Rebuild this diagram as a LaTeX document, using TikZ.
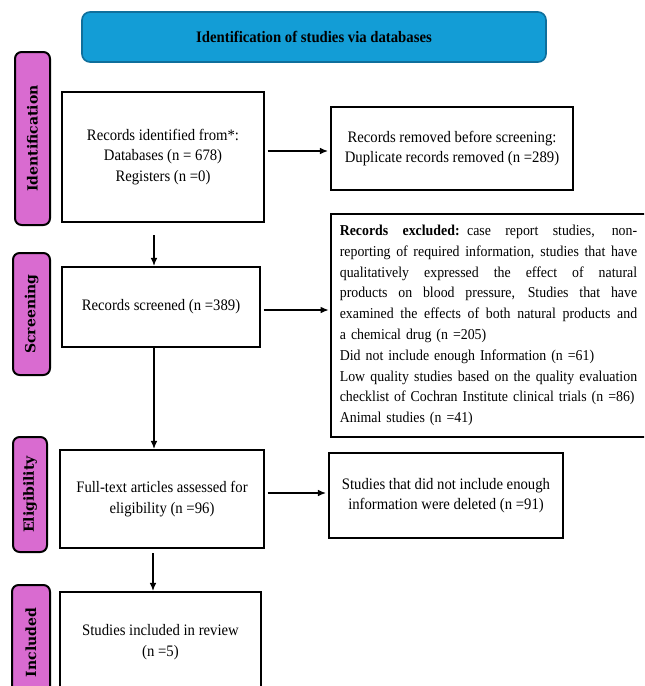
\documentclass[tikz,border=0pt]{standalone}
\usepackage{fontspec}
\setmainfont{Liberation Serif}[FakeStretch=0.92]
\newfontfamily\labfont{DejaVu Serif}
\usetikzlibrary{arrows.meta}
\definecolor{bannerblue}{HTML}{139DD6}
\definecolor{bannerborder}{HTML}{0F6F9C}
\definecolor{labpink}{HTML}{D96BD0}
\newcommand\exjl[1]{\makebox[223pt][s]{\spaceskip=0.23em plus 1fil minus 0.05em\relax #1}}
\tikzset{
  box/.style={draw=black, line width=1.6pt, fill=white, align=center,
    font=\fontsize{12}{15.5}\selectfont, inner sep=0pt},
  lab/.style={draw=black, line width=1.5pt, fill=labpink, rounded corners=5pt,
    rotate=90, inner sep=0pt, font=\labfont\bfseries\fontsize{10.5}{12}\selectfont},
  banner/.style={draw=bannerborder, line width=1.2pt, fill=bannerblue, rounded corners=6pt,
    inner sep=0pt, font=\bfseries\fontsize{12}{14}\selectfont},
  arr/.style={line width=0.9pt, -{Latex[length=6pt,width=5pt]}}
}
\begin{document}
\begin{tikzpicture}[x=0.75pt,y=-0.75pt]
\useasboundingbox (0,0) rectangle (644,686);
\clip (0,0) rectangle (644,686);
\fill[white] (0,0) rectangle (644,686);

\node[banner, minimum width=348pt, minimum height=37.5pt] (ban) at (314,37) {Identification of studies via databases};

\node[lab, minimum width=129.75pt, minimum height=26.25pt] (lid) at (32.5,138.5) {Identification};
\node[lab, minimum width=91.5pt, minimum height=27.75pt] (lsc) at (31.5,314) {Screening};
\node[lab, minimum width=86.25pt, minimum height=25.5pt] (lel) at (30,494.5) {Eligibility};
\node[lab, minimum width=86.25pt, minimum height=28.5pt] (lin) at (31,642.5) {Included};

\node[box, minimum width=151.5pt, minimum height=97.5pt] (rec) at (163,157)
  {Records identified from*:\\ Databases (n = 678)\\ Registers (n =0)};
\node[box, minimum width=181.5pt, minimum height=62.25pt] (rem) at (452,148.5)
  {Records removed before screening:\\ Duplicate records removed (n =289)};
\node[box, minimum width=148.5pt, minimum height=60pt] (scr) at (161,307)
  {Records screened (n =389)};
\node[box, minimum width=236.25pt, minimum height=167.25pt, text width=223pt, align=left,
      font=\fontsize{11.3}{15.6}\selectfont] (exc) at (488.5,325.5)
  {\exjl{\textbf{Records excluded:} case report studies, non-}\\
   \exjl{reporting of required information, studies that have}\\
   \exjl{qualitatively expressed the effect of natural}\\
   \exjl{products on blood pressure, Studies that have}\\
   \exjl{examined the effects of both natural products and}\\
   a chemical drug (n =205)\\
   Did not include enough Information (n =61)\\
   \exjl{Low quality studies based on the quality evaluation}\\
   checklist of Cochran Institute clinical trials (n =86)\\
   Animal studies (n =41)};
\node[box, minimum width=153pt, minimum height=73.5pt] (ful) at (162,499)
  {Full-text articles assessed for\\ eligibility (n =96)};
\node[box, minimum width=175.5pt, minimum height=63.75pt] (del) at (446,495.5)
  {Studies that did not include enough\\ information were deleted (n =91)};
\node[box, minimum width=150.75pt, minimum height=75pt] (inc) at (160.5,642)
  {Studies included in review\\ (n =5)};

\coordinate (ya) at (0,151);
\coordinate (yb) at (0,310);
\coordinate (yc) at (0,493);
\coordinate (xa) at (154,0);
\coordinate (xb) at (153,0);

\draw[arr] ([xshift=2pt]rec.east |- ya) -- ([xshift=-1.5pt]rem.west |- ya);
\draw[arr] ([xshift=2pt]scr.east |- yb) -- ([xshift=-1pt]exc.west |- yb);
\draw[arr] ([xshift=2pt]ful.east |- yc) -- ([xshift=-1.5pt]del.west |- yc);
\draw[arr] ([yshift=-9pt]rec.south -| xa) -- (scr.north -| xa);
\draw[arr] (scr.south -| xa) -- (ful.north -| xa);
\draw[arr] ([yshift=-3pt]ful.south -| xb) -- (inc.north -| xb);
\end{tikzpicture}
\end{document}
